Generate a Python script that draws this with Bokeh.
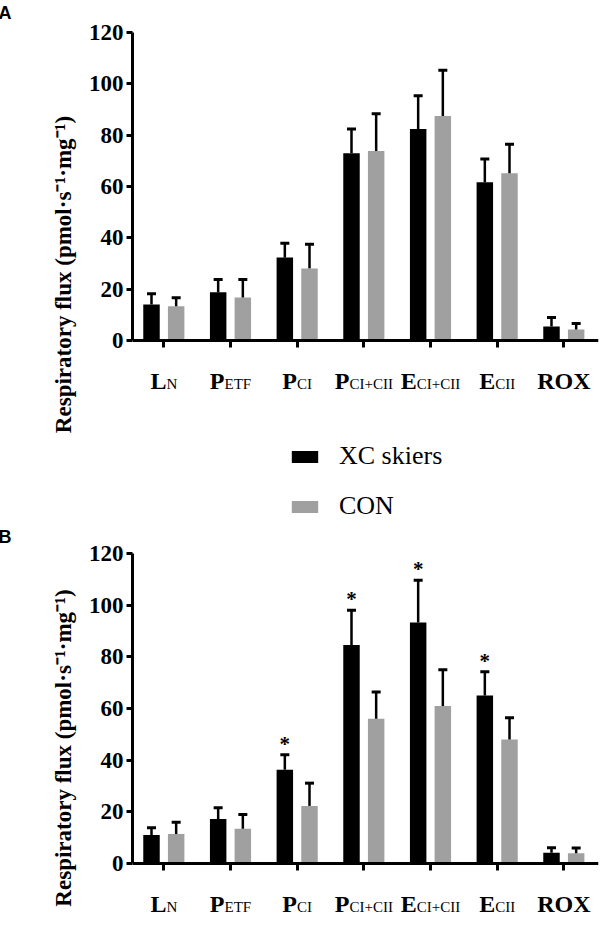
import math
from bokeh.plotting import figure
from bokeh.models import (ColumnDataSource, Range1d, FixedTicker, Whisker, TeeHead,
                          Legend, LegendItem, LabelSet)
from bokeh.layouts import column
from bokeh.embed import file_html
from bokeh.resources import INLINE
from bokeh.core.properties import value
from bokeh.transform import dodge

# ---------------- data ----------------
categories = ["LN", "PETF", "PCI", "PCI+CII", "ECI+CII", "ECII", "ROX"]
label_main = ["L", "P", "P", "P", "E", "E", "ROX"]
label_sub = ["N", "ETF", "CI", "CI+CII", "CI+CII", "CII", ""]
y_ticks = [0, 20, 40, 60, 80, 100, 120]
series_names = ["XC skiers", "CON"]

# Panel A
xc_a = [14.0, 18.8, 32.3, 73.0, 82.4, 61.7, 5.5]
xc_a_err = [4.2, 5.0, 5.6, 9.4, 13.0, 9.0, 3.5]
con_a = [13.3, 16.8, 28.1, 73.8, 87.5, 65.2, 4.3]
con_a_err = [3.4, 7.0, 9.4, 14.5, 17.8, 11.3, 2.3]

# Panel B
xc_b = [11.0, 17.2, 36.3, 84.6, 93.3, 65.0, 4.2]
xc_b_err = [2.8, 4.4, 5.8, 13.4, 16.3, 9.2, 1.9]
con_b = [11.4, 13.5, 22.3, 56.0, 61.0, 48.0, 4.0]
con_b_err = [4.6, 5.5, 8.8, 10.4, 14.0, 8.4, 2.0]
sig_b = ["", "", "*", "*", "*", "*", ""]
sig_a = ["", "", "", "", "", "", ""]

# ---------------- style / layout ----------------
SERIF = "Liberation Serif"
BLACK = "#000000"
GREY = "#a0a0a0"
OFF = 0.185
BW = 0.247
W = 600
FRAME_LEFT = 132
X_RANGE = (-0.47, 6.52)

ADV = {"N": 0.722, "E": 0.611, "T": 0.611, "F": 0.556, "C": 0.667, "I": 0.333, "+": 0.564}
ADV_BOLD = {"L": 0.667, "P": 0.611, "E": 0.667, "R": 0.722, "O": 0.778, "X": 0.722}
SUB_PX = 15
MAIN_PX = 24
LABEL_BASELINE = 48  # px below the x axis


def text_width(s, table, px):
    return sum(table.get(ch, 0.6) for ch in s) * px


def make_panel(xc, xc_err, con, con_err, sig, letter, height, frame_top, y120_px,
               axis_px, legend=False):
    k = axis_px / 120.0
    y_end = 120 + (y120_px - frame_top) / k
    y_start = 120 - (height - y120_px) / k
    idx = list(range(len(categories)))
    main_xo, sub_xo = [], []
    for m, s in zip(label_main, label_sub):
        mw = text_width(m, ADV_BOLD, MAIN_PX)
        sw = text_width(s, ADV, SUB_PX)
        start = -(mw + sw) / 2
        main_xo.append(start)
        sub_xo.append(start + mw)
    src = ColumnDataSource(dict(
        idx=idx, xc=xc, con=con,
        xc_up=[v + e for v, e in zip(xc, xc_err)],
        con_up=[v + e for v, e in zip(con, con_err)],
        sig=sig, main=label_main, sub=label_sub, zero=[0] * len(idx),
        mxo=main_xo, sxo=sub_xo,
    ))

    p = figure(width=W, height=height, output_backend="svg", toolbar_location=None,
               x_range=Range1d(*X_RANGE), y_range=Range1d(y_start, y_end),
               x_axis_location="above",
               min_border_left=FRAME_LEFT, min_border_right=2,
               min_border_top=frame_top, min_border_bottom=0)
    p.outline_line_color = None
    p.xgrid.visible = False
    p.ygrid.visible = False
    p.background_fill_color = "white"
    p.border_fill_color = "white"

    p.title.text = letter
    p.title.align = "left"
    p.title.vertical_align = "top"
    p.title.offset = -(FRAME_LEFT + 2)
    p.title.standoff = 0
    p.title.text_font = "Liberation Sans"
    p.title.text_font_style = "bold"
    p.title.text_font_size = "18px"
    p.title.text_color = BLACK

    r1 = p.vbar(x=dodge("idx", -OFF, range=p.x_range), top="xc", bottom=0, width=BW,
                source=src, fill_color=BLACK, line_color=None)
    r2 = p.vbar(x=dodge("idx", OFF, range=p.x_range), top="con", bottom=0, width=BW,
                source=src, fill_color=GREY, line_color=None)

    for key_lo, key_up, off in (("xc", "xc_up", -OFF), ("con", "con_up", OFF)):
        wk = Whisker(source=src, base=dodge("idx", off, range=p.x_range),
                     lower=key_lo, upper=key_up, dimension="height",
                     line_color=BLACK, line_width=2.5, level="annotation",
                     upper_head=TeeHead(size=9, line_width=3, line_color=BLACK),
                     lower_head=None)
        p.add_layout(wk)

    p.text(x=dodge("idx", -OFF, range=p.x_range), y="xc_up", text="sig", source=src,
           text_font=value(SERIF), text_font_style="bold", text_font_size="21px",
           text_align="center", text_baseline="middle", y_offset=-11, text_color=BLACK)

    # category labels: big bold letter followed by a smaller regular suffix
    p.add_layout(LabelSet(x="idx", y="zero", text="main", source=src,
                          x_offset="mxo", y_offset=-LABEL_BASELINE, text_font=SERIF,
                          text_font_style="bold", text_font_size=f"{MAIN_PX}px",
                          text_align="left", text_baseline="alphabetic",
                          text_color=BLACK))
    p.add_layout(LabelSet(x="idx", y="zero", text="sub", source=src,
                          x_offset="sxo", y_offset=-LABEL_BASELINE, text_font=SERIF,
                          text_font_size=f"{SUB_PX}px", text_align="left",
                          text_baseline="alphabetic", text_color=BLACK))

    # y axis
    p.yaxis.bounds = (0, 120)
    p.yaxis.ticker = FixedTicker(ticks=y_ticks)
    p.yaxis.minor_tick_line_color = None
    p.yaxis.major_tick_in = 0
    p.yaxis.major_tick_out = 6
    p.yaxis.major_tick_line_width = 3
    p.yaxis.axis_line_width = 3
    p.yaxis.major_label_text_font = SERIF
    p.yaxis.major_label_text_font_style = "bold"
    p.yaxis.major_label_text_font_size = "23px"
    p.yaxis.major_label_text_color = BLACK
    p.yaxis.major_label_standoff = 3
    p.yaxis.axis_label = "Respiratory flux (pmol\u00b7s\u207b\u00b9\u00b7mg\u207b\u00b9)"
    p.yaxis.axis_label_text_font = SERIF
    p.yaxis.axis_label_text_font_style = "bold"
    p.yaxis.axis_label_text_font_size = "23px"
    p.yaxis.axis_label_text_color = BLACK
    p.yaxis.axis_label_standoff = 10

    # x axis rule at y = 0 with ticks pointing down
    p.xaxis.fixed_location = 0
    p.xaxis.ticker = FixedTicker(ticks=idx)
    p.xaxis.minor_tick_line_color = None
    p.xaxis.major_tick_in = 7
    p.xaxis.major_tick_out = 0
    p.xaxis.major_tick_line_width = 3
    p.xaxis.axis_line_width = 3
    p.xaxis.major_label_text_font_size = "0px"
    p.xaxis.major_label_text_color = None
    p.xaxis.major_label_standoff = 0

    if legend:
        lg = Legend(items=[LegendItem(label=series_names[0], renderers=[r1]),
                           LegendItem(label=series_names[1], renderers=[r2])],
                    location=(156, 3), orientation="vertical",
                    glyph_width=33, glyph_height=15, label_standoff=18,
                    label_text_font=SERIF, label_text_font_size="26px",
                    label_text_color=BLACK, spacing=20, padding=0, margin=0,
                    border_line_color=None, background_fill_alpha=0)
        p.add_layout(lg, "center")
    return p


pA = make_panel(xc_a, xc_a_err, con_a, con_a_err, sig_a, "A", height=524,
                frame_top=24, y120_px=32, axis_px=308, legend=True)
pB = make_panel(xc_b, xc_b_err, con_b, con_b_err, sig_b, "B", height=423,
                frame_top=24, y120_px=29, axis_px=310)

layout = column(pA, pB, spacing=0)
open("out.html", "w").write(file_html(layout, INLINE))
